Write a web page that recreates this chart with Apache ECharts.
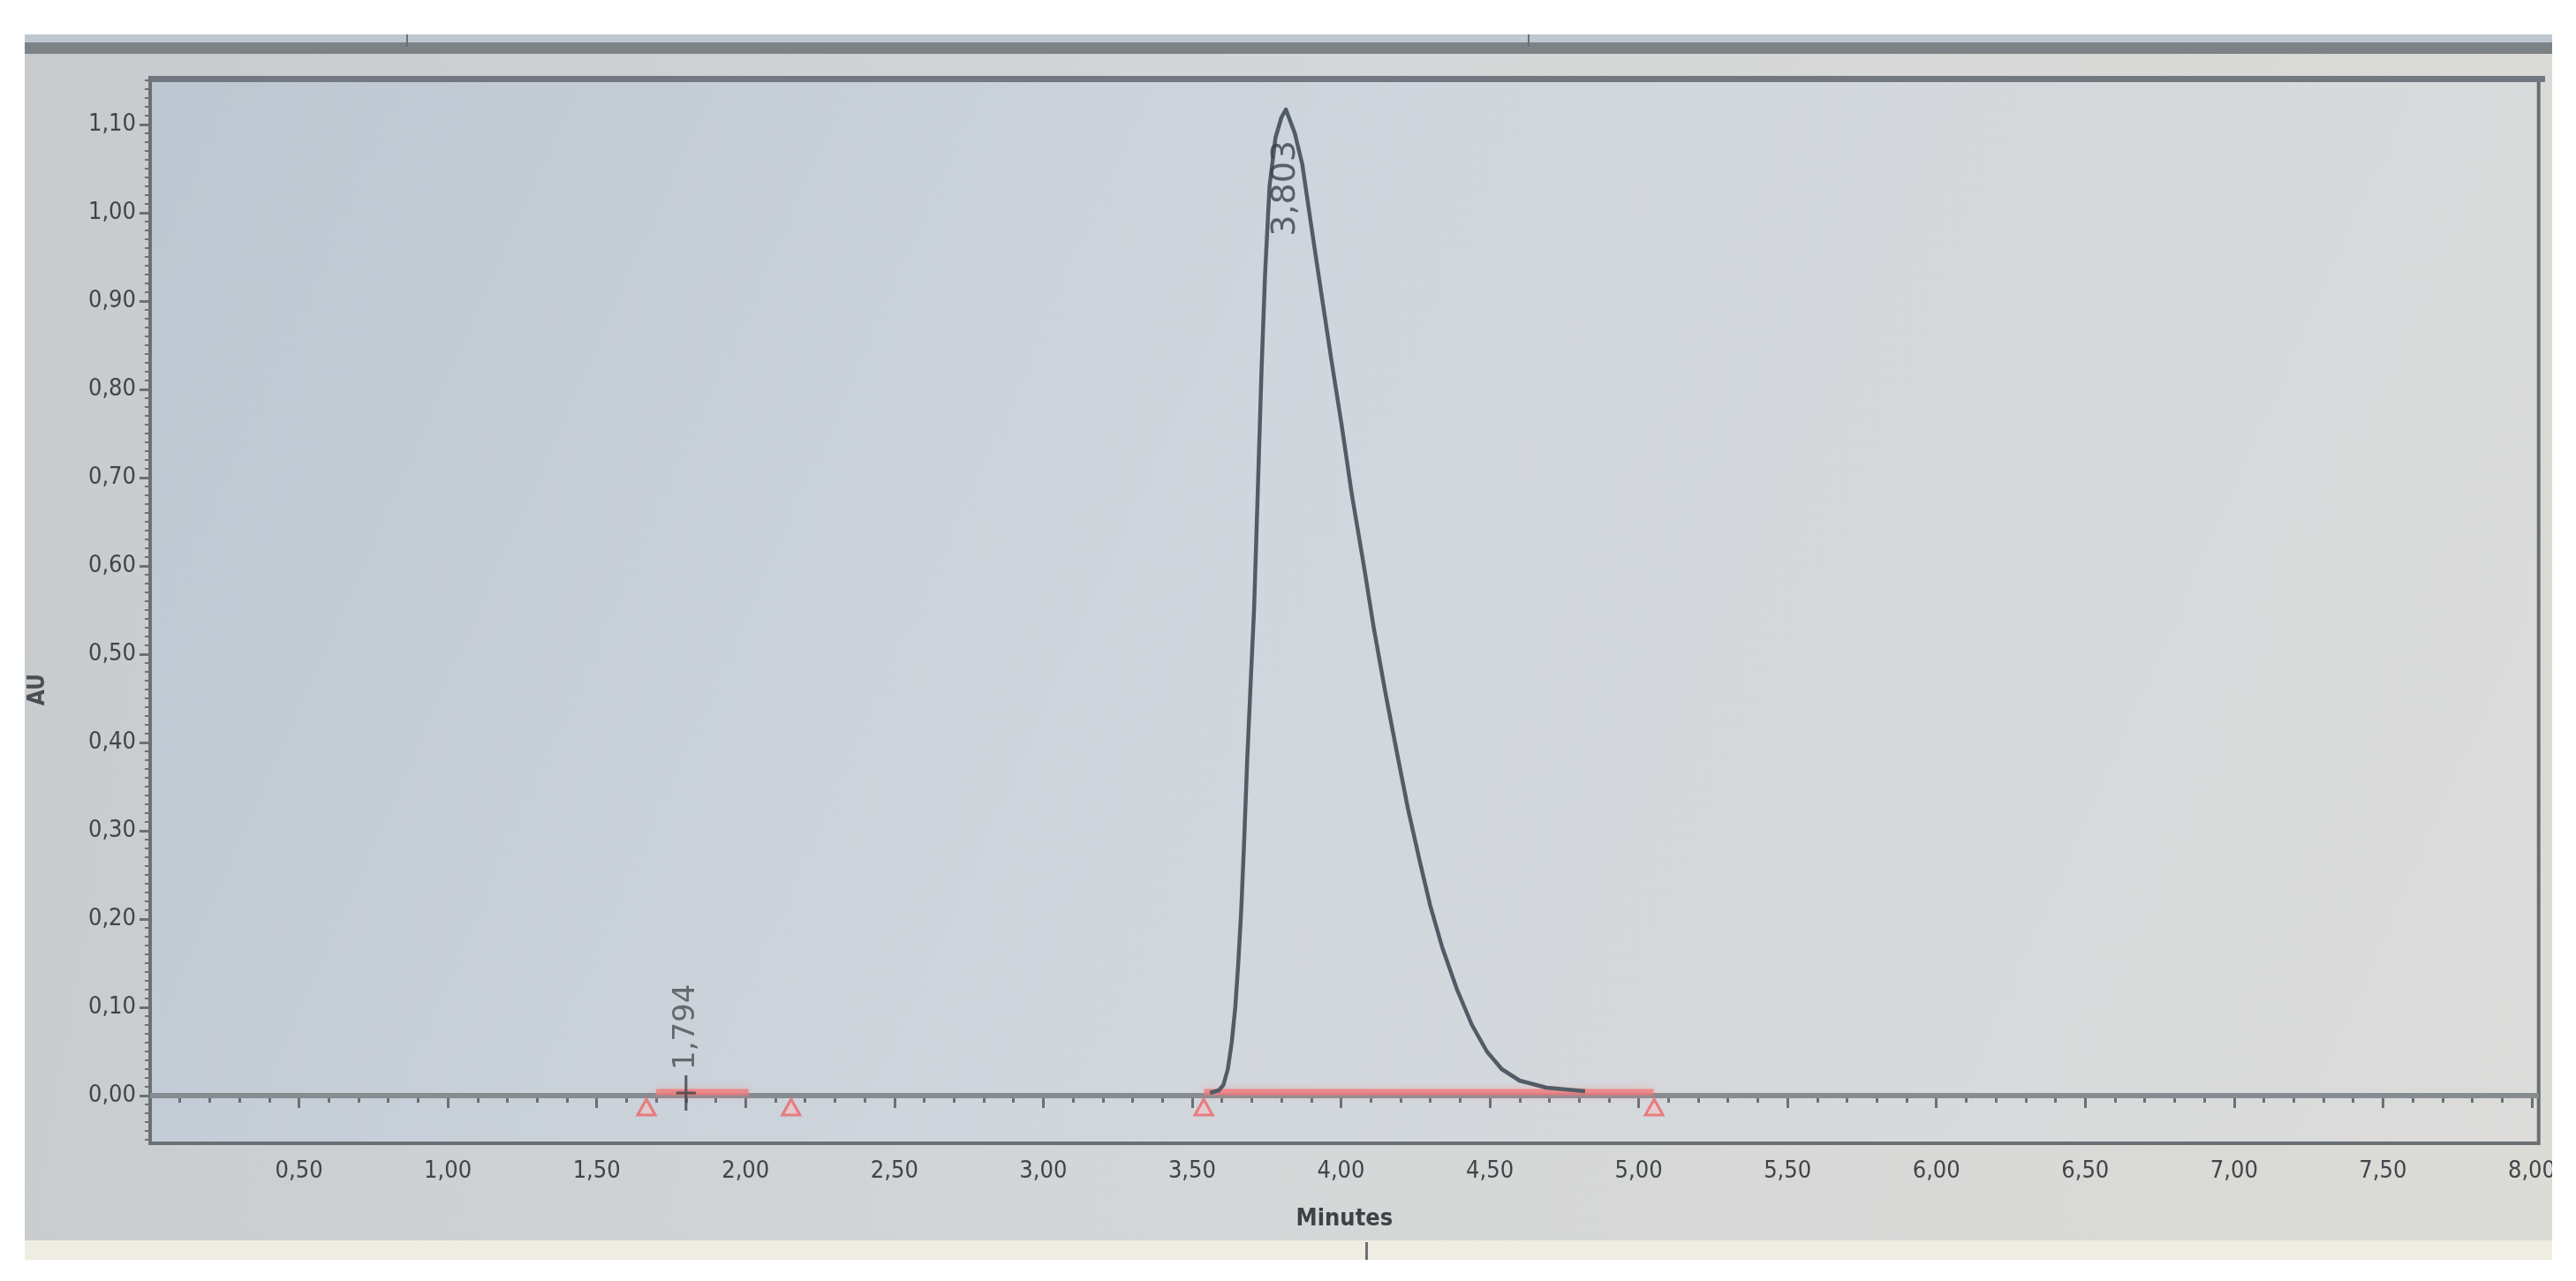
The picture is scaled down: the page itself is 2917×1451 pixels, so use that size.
<!DOCTYPE html>
<html>
<head>
<meta charset="utf-8">
<script src="https://cdn.jsdelivr.net/npm/echarts@6/dist/echarts.min.js"></script>
<style>
  html, body { margin: 0; padding: 0; background: #ffffff; width: 2917px; height: 1451px; overflow: hidden; }
  #photo { position: absolute; left: 28px; top: 39px; width: 2862px; height: 1388px; overflow: hidden;
           background: linear-gradient(100deg, #c8cbcd 0%, #d3d6d8 45%, #dcdbd6 100%); }
  #chart { position: absolute; left: 0; top: 0; width: 2869px; height: 1388px; }
</style>
</head>
<body>
<div id="photo"><div id="chart"></div></div>
<script>
// ---- data ----
const xTickLabels = [0.5, 1.0, 1.5, 2.0, 2.5, 3.0, 3.5, 4.0, 4.5, 5.0, 5.5, 6.0, 6.5, 7.0, 7.5, 8.0];
const yTickLabels = [0.0, 0.1, 0.2, 0.3, 0.4, 0.5, 0.6, 0.7, 0.8, 0.9, 1.0, 1.1];

// main peak trace (Minutes, AU)
const peakTime = [3.560, 3.590, 3.605, 3.620, 3.633, 3.645, 3.655, 3.665, 3.675, 3.685, 3.697, 3.708,
                  3.722, 3.733, 3.745, 3.760, 3.780, 3.800, 3.815,
                  3.845, 3.870, 3.899, 3.933, 3.967, 4.003, 4.036, 4.077, 4.110, 4.150, 4.190, 4.225,
                  4.265, 4.300, 4.340, 4.390, 4.440, 4.490, 4.540, 4.600, 4.690, 4.820];
const peakAU   = [0.003, 0.006, 0.012, 0.030, 0.060, 0.100, 0.150, 0.210, 0.290, 0.380, 0.470, 0.550,
                  0.700, 0.820, 0.930, 1.030, 1.085, 1.108, 1.117,
                  1.090, 1.055, 0.988, 0.911, 0.835, 0.758, 0.682, 0.600, 0.530, 0.455, 0.385, 0.325,
                  0.265, 0.215, 0.168, 0.120, 0.080, 0.050, 0.030, 0.017, 0.009, 0.005];

// flat signal baseline across the run
const baseTime = [0.0, 8.023];
const baseAU   = [0.0, 0.0];

// integration baselines (start, end) and their drop markers
const intStart  = [1.70, 3.54];
const intEnd    = [2.01, 5.05];
const intLevel  = [0.004, 0.004];
const markerTime = [1.667, 2.153, 3.539, 5.052];

// peak annotations (retention times)
const peakRT     = [1.794, 3.803];
const peakRTTime = [1.800, 3.815];
const peakRTAU   = [0.003, 1.117];

// ---- helpers ----
const fmt = v => v.toFixed(2).replace('.', ',');
const minorX = []; for (let i = 1; i <= 80; i++) minorX.push(+(i * 0.1).toFixed(2));
const minorY = []; for (let i = -5; i <= 115; i++) minorY.push(+(i * 0.01).toFixed(3));

const X_MIN = 0, X_MAX = 8.023, Y_MIN = -0.054, Y_MAX = 1.153;
const axisColor = '#6c7075';
const labelFont = '"DejaVu Sans Condensed", "Liberation Sans Narrow", sans-serif';

const chart = echarts.init(document.getElementById('chart'), null, { renderer: 'canvas' });

const option = {
  animation: false,
  backgroundColor: 'transparent',
  grid: {
    left: 142, top: 49, width: 2710, height: 1207,
    show: true,
    borderColor: '#6a6f74', borderWidth: 4,
    backgroundColor: new echarts.graphic.LinearGradient(0, 0, 1, 1, [
      { offset: 0, color: '#bdc7d2' },
      { offset: 0.45, color: '#cfd6dd' },
      { offset: 1, color: '#dcdcda' }
    ])
  },
  xAxis: [
    {
      type: 'value', min: X_MIN, max: X_MAX, position: 'bottom',
      name: 'Minutes', nameLocation: 'middle', nameGap: 72,
      nameTextStyle: { fontFamily: labelFont, fontSize: 27, fontWeight: 'bold', color: '#3e4246' },
      axisLine: { show: true, lineStyle: { color: axisColor, width: 4 } },
      splitLine: { show: false },
      axisTick: { show: true, customValues: xTickLabels, length: 14, lineStyle: { color: axisColor, width: 3 } },
      axisLabel: { show: true, customValues: xTickLabels, formatter: fmt, margin: 18,
                   fontFamily: labelFont, fontSize: 27, color: '#414549' }
    },
    {
      type: 'value', min: X_MIN, max: X_MAX, position: 'bottom', offset: 0,
      axisLine: { show: false }, splitLine: { show: false }, axisLabel: { show: false },
      axisTick: { show: true, customValues: minorX, length: 8, lineStyle: { color: axisColor, width: 3 } }
    }
  ],
  yAxis: [
    {
      type: 'value', min: Y_MIN, max: Y_MAX, position: 'left',
      axisLine: { show: true, lineStyle: { color: axisColor, width: 4 } },
      splitLine: { show: false },
      axisTick: { show: true, customValues: yTickLabels, length: 12, lineStyle: { color: axisColor, width: 3 } },
      axisLabel: { show: true, customValues: yTickLabels, formatter: fmt, margin: 16,
                   fontFamily: labelFont, fontSize: 27, color: '#414549' }
    },
    {
      type: 'value', min: Y_MIN, max: Y_MAX, position: 'left', offset: 0,
      axisLine: { show: false }, splitLine: { show: false }, axisLabel: { show: false },
      axisTick: { show: true, customValues: minorY, length: 6, lineStyle: { color: axisColor, width: 2 } }
    }
  ],
  graphic: [
    { type: 'rect', left: 0, top: 0, shape: { width: 2869, height: 10 }, style: { fill: '#bfc8d1' }, z: 0, silent: true },
    { type: 'rect', left: 0, top: 9, shape: { width: 2869, height: 13 }, style: { fill: '#7d8287' }, z: 1, silent: true },
    { type: 'rect', left: 432, top: 0, shape: { width: 2, height: 14 }, style: { fill: '#6d7176' }, z: 2, silent: true },
    { type: 'rect', left: 1702, top: 0, shape: { width: 2, height: 14 }, style: { fill: '#6d7176' }, z: 2, silent: true },
    { type: 'rect', left: 142, top: 47, shape: { width: 2712, height: 7 }, style: { fill: '#737880' }, z: 2, silent: true },
    { type: 'rect', left: 0, top: 1366, shape: { width: 2869, height: 22 }, style: { fill: '#efede2' }, z: 1, silent: true },
    { type: 'rect', left: 1518, top: 1368, shape: { width: 3, height: 20 }, style: { fill: '#6d7176' }, z: 2, silent: true },
    { type: 'text', left: 2, top: 724, rotation: Math.PI / 2,
      style: { text: 'AU', font: 'bold 26px "DejaVu Sans Condensed", sans-serif', fill: '#4a4e52' }, z: 3, silent: true }
  ],
  series: [
    {
      name: 'baseline', type: 'line', xAxisIndex: 0, yAxisIndex: 0,
      data: baseTime.map((t, i) => [t, baseAU[i]]),
      showSymbol: false, symbol: 'none', silent: true, z: 2,
      lineStyle: { color: '#878c91', width: 6 }
    },
    ...intStart.map((s, i) => ({
      name: 'integration' + i, type: 'line', xAxisIndex: 0, yAxisIndex: 0,
      data: [[s, intLevel[i]], [intEnd[i], intLevel[i]]],
      showSymbol: false, symbol: 'none', silent: true, z: 3,
      lineStyle: { color: 'rgba(238,120,122,0.78)', width: 7, shadowBlur: 8, shadowColor: 'rgba(255,140,140,0.6)' }
    })),
    {
      name: 'signal', type: 'line', xAxisIndex: 0, yAxisIndex: 0,
      data: peakTime.map((t, i) => [t, peakAU[i]]),
      showSymbol: false, symbol: 'none', smooth: false, silent: true, z: 4,
      lineStyle: { color: '#525c66', width: 4.5, join: 'round' }
    },
    {
      name: 'markers', type: 'scatter', xAxisIndex: 0, yAxisIndex: 0,
      data: markerTime.map(t => [t, 0]),
      symbol: 'triangle', symbolSize: [20, 18], symbolOffset: [0, 13], silent: true, z: 5,
      itemStyle: { color: 'rgba(255,190,190,0.55)', borderColor: '#e9686b', borderWidth: 3 }
    },
    {
      name: 'rt', type: 'scatter', xAxisIndex: 0, yAxisIndex: 0,
      symbolKeepAspect: false, silent: true, z: 6,
      data: peakRTTime.map((t, i) => ({
        value: [t, peakRTAU[i]],
        symbol: i === 0 ? 'path://M4.3,0 L5.7,0 L5.7,4.6 L10,4.6 L10,5.4 L5.7,5.4 L5.7,10 L4.3,10 L4.3,5.4 L0,5.4 L0,4.6 L4.3,4.6 Z' : 'circle',
        symbolSize: i === 0 ? [22, 40] : 2,
        itemStyle: i === 0 ? { color: '#3c4147' } : { color: 'rgba(0,0,0,0)' },
        label: i === 0
          ? { show: true, formatter: peakRT[i].toFixed(3).replace('.', ','),
              position: 'top', distance: 6, rotate: 90, align: 'left', verticalAlign: 'middle',
              fontFamily: '"DejaVu Sans", sans-serif', fontSize: 34, color: '#4a4f55' }
          : { show: true, formatter: peakRT[i].toFixed(3).replace('.', ','),
              position: 'bottom', distance: 34, rotate: 90, align: 'right', verticalAlign: 'middle',
              fontFamily: '"DejaVu Sans", sans-serif', fontSize: 38, color: '#3a424b' }
      }))
    }
  ]
};

chart.setOption(option);
</script>
</body>
</html>
